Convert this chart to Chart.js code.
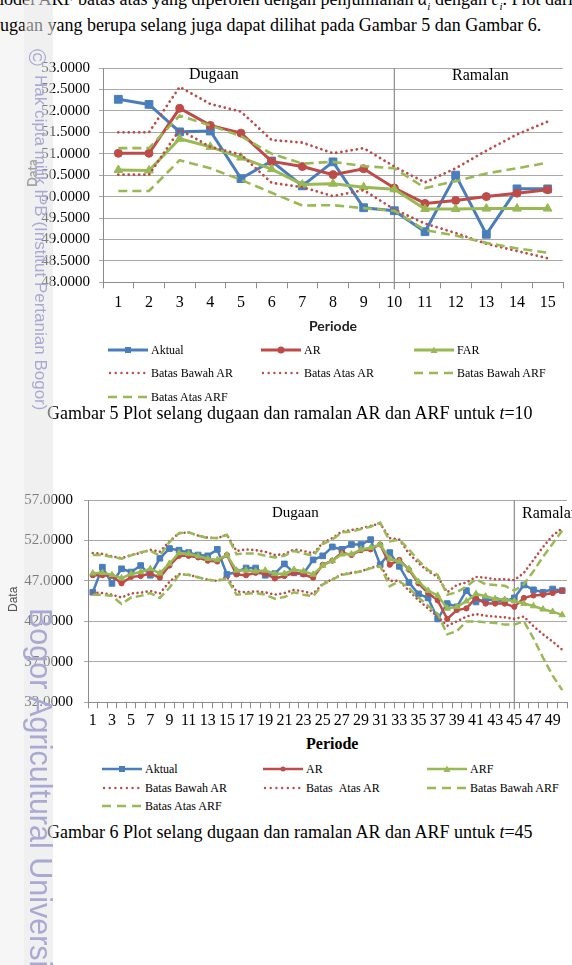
<!DOCTYPE html>
<html>
<head>
<meta charset="utf-8">
<script src="https://cdn.jsdelivr.net/npm/chart.js"></script>
<style>
  body { margin: 0; width: 572px; height: 965px; overflow: hidden; background: #fff; position: relative;
         font-family: "Liberation Serif", "Times New Roman", serif; color: #000; }
  .abs { position: absolute; white-space: nowrap; }
  .teks { font-size: 18px; line-height: 20px; }
  canvas { position: absolute; left: 0; }
  .leg { position: absolute; display: flex; align-items: center; height: 14px; font-size: 12px; white-space: nowrap; }
  .leg svg { margin-right: 3px; }
  .strip1 { position: absolute; left: 0; top: 0; width: 24px; height: 965px; background: #f6f6f6; }
  .strip2 { position: absolute; left: 24px; top: 0; width: 29px; height: 965px; background: rgba(228,228,230,0.55); }
  .wm { position: absolute; white-space: nowrap; color: #a9a9d3; font-family: "Liberation Sans", Arial, sans-serif;
        transform-origin: 0 0; transform: rotate(90deg); }
</style>
</head>
<body>
<div class="strip1"></div>

<div class="abs teks" style="left:-10px; top:-11px;">model ARF batas atas yang diperoleh dengan penjumlahan <i>α<sub style="font-size:11px">i</sub></i> dengan <i>c<sub style="font-size:11px">i</sub></i>. Plot dari</div>
<div class="abs teks" style="left:-9px; top:15px;">dugaan yang berupa selang juga dapat dilihat pada Gambar 5 dan Gambar 6.</div>

<canvas id="grafik1" width="572" height="270" style="top:50px"></canvas>
<div class="abs" style="left:189px; top:65px; font-size:16px;">Dugaan</div>
<div class="abs" style="left:452px; top:66px; font-size:16px;">Ramalan</div>
<div class="abs" style="left:24px; top:187px; font:bold 13px Lato, sans-serif; color:#555; transform:rotate(-90deg); transform-origin:0 0;">Data</div>
<div class="abs" style="left:309px; top:317px; font:bold 14px Lato, sans-serif; color:#222;">Periode</div>
<div id="legenda1"></div>
<div class="abs teks" style="left:47px; top:403px;">Gambar 5 Plot selang dugaan dan ramalan AR dan ARF untuk <i>t</i>=10</div>

<canvas id="grafik2" width="572" height="255" style="top:480px"></canvas>
<div class="abs" style="left:272px; top:504px; font-size:15px;">Dugaan</div>
<div class="abs" style="left:522px; top:504px; font-size:16px;">Ramalan</div>
<div class="abs" style="left:6px; top:612px; font:12px 'Liberation Sans', sans-serif; color:#555; transform:rotate(-90deg); transform-origin:0 0;">Data</div>
<div class="abs" style="left:306px; top:735px; font-weight:bold; font-size:16px;">Periode</div>
<div id="legenda2"></div>
<div class="abs teks" style="left:47px; top:822px;">Gambar 6 Plot selang dugaan dan ramalan AR dan ARF untuk <i>t</i>=45</div>

<div class="strip2"></div>
<div class="wm" style="left:50px; top:49px; font-size:23px;">©</div>
<div class="wm" style="left:50px; top:75px; font-size:17px;">Hak cipta milik IPB (Institut Pertanian Bogor)</div>
<div class="wm" style="left:58px; top:608px; font-size:30.5px;">Bogor Agricultural University</div>

<script>
'use strict';

/**
 * data grafik 1 (t = 10)
 */
const periode1 = [1, 2, 3, 4, 5, 6, 7, 8, 9, 10, 11, 12, 13, 14, 15];
const aktual1 = [52.27, 52.15, 51.51, 51.53, 50.42, 50.83, 50.25, 50.81, 49.74, 49.67, 49.18, 50.50, 49.12, 50.18, 50.18];
const ar1 = [51.01, 51.01, 52.06, 51.66, 51.48, 50.82, 50.70, 50.51, 50.65, 50.20, 49.84, 49.91, 50.00, 50.08, 50.16];
const far1 = [50.62, 50.61, 51.35, 51.16, 50.91, 50.64, 50.28, 50.30, 50.22, 50.17, 49.71, 49.71, 49.72, 49.72, 49.72];
const bawahAR1 = [50.51, 50.51, 51.56, 51.16, 50.98, 50.32, 50.22, 50.01, 50.15, 49.70, 49.37, 49.15, 48.90, 48.73, 48.56];
const atasAR1 = [51.50, 51.50, 52.56, 52.16, 51.98, 51.32, 51.26, 51.01, 51.13, 50.70, 50.33, 50.66, 51.07, 51.45, 51.75];
const bawahARF1 = [50.13, 50.13, 50.85, 50.66, 50.39, 50.09, 49.79, 49.80, 49.73, 49.67, 49.22, 49.09, 48.92, 48.79, 48.69];
const atasARF1 = [51.13, 51.13, 51.89, 51.66, 51.41, 51.00, 50.77, 50.81, 50.71, 50.66, 50.20, 50.36, 50.54, 50.66, 50.79];
const namaSeri1 = ["Aktual", "AR", "FAR", "Batas Bawah AR", "Batas Atas AR", "Batas Bawah ARF", "Batas Atas ARF"];
const batasPeriode1 = 10;

/**
 * data grafik 2 (t = 45)
 */
const periode2 = [1, 2, 3, 4, 5, 6, 7, 8, 9, 10, 11, 12, 13, 14, 15, 16, 17, 18, 19, 20, 21, 22, 23, 24, 25,
  26, 27, 28, 29, 30, 31, 32, 33, 34, 35, 36, 37, 38, 39, 40, 41, 42, 43, 44, 45, 46, 47, 48, 49, 50];
const aktual2 = [45.6, 48.7, 46.7, 48.5, 48.1, 48.9, 47.7, 49.8, 51.0, 50.8, 50.5, 50.2, 50.1, 50.9, 47.8, 48.1, 48.6, 48.6, 47.7, 47.9,
  49.1, 48.0, 47.9, 49.6, 50.1, 51.2, 50.9, 51.5, 51.5, 52.1, 49.0, 50.5, 48.8, 46.8, 45.4, 44.9, 42.3, 44.2, 43.8, 45.8,
  44.4, 44.7, 44.6, 44.5, 44.9, 46.5, 45.9, 45.6, 46.0, 45.8];
const ar2 = [47.7, 47.7, 47.6, 46.7, 47.5, 47.6, 47.9, 47.4, 48.9, 50.1, 50.1, 49.9, 49.5, 49.4, 50.2, 47.8, 47.7, 48.0, 47.9, 47.3,
  47.6, 48.0, 47.8, 47.4, 49.0, 49.5, 50.5, 50.2, 50.8, 50.9, 51.5, 49.0, 49.6, 48.4, 46.7, 45.5, 44.6, 42.3, 43.4, 43.6,
  44.9, 44.2, 44.2, 44.2, 43.8, 44.9, 45.2, 45.3, 45.5, 45.8];
const arf2 = [47.95, 48.0, 47.75, 47.35, 47.85, 48.1, 48.5, 47.95, 49.15, 50.45, 50.35, 50.05, 49.75, 49.6, 50.2, 48.3, 48.3, 48.2, 48.3, 47.9,
  47.9, 48.4, 48.2, 47.8, 48.9, 49.5, 50.3, 50.3, 50.9, 51.1, 51.5, 49.7, 49.4, 48.5, 46.9, 45.8, 45.2, 43.6, 43.8, 44.5,
  45.4, 45.1, 44.8, 44.7, 44.5, 44.2, 43.9, 43.5, 43.2, 42.8];
const bawahAR2 = [45.55, 45.5, 45.3, 44.95, 45.45, 45.55, 45.75, 45.45, 46.9, 47.85, 47.75, 47.45, 47.15, 47.0, 47.5, 45.7, 45.6, 45.7, 45.6, 45.3,
  45.5, 45.9, 45.7, 45.4, 46.65, 47.2, 47.8, 48.0, 48.2, 48.6, 48.95, 47.0, 47.0, 45.8, 44.6, 43.6, 42.6, 41.45, 42.0, 42.6,
  42.9, 42.7, 42.6, 42.5, 42.3, 42.6, 41.4, 40.4, 39.5, 38.5];
const atasAR2 = [50.45, 50.35, 50.05, 49.8, 50.2, 50.45, 50.85, 50.6, 51.9, 52.9, 53.0, 52.6, 52.35, 52.3, 52.7, 50.7, 50.9, 50.8, 50.6, 50.2,
  50.3, 50.9, 50.7, 50.4, 51.7, 52.3, 53.1, 53.3, 53.5, 53.8, 54.1, 52.3, 52.1, 50.4, 49.2, 48.2, 47.5, 45.6, 46.5, 46.8,
  47.5, 47.4, 47.2, 47.2, 47.1, 48.0, 49.6, 51.2, 52.6, 53.5];
const bawahARF2 = [45.3, 45.3, 45.15, 44.15, 44.95, 45.15, 45.5, 44.9, 46.15, 47.75, 47.75, 47.45, 47.15, 47.0, 47.3, 45.3, 45.4, 45.5, 45.3, 44.8,
  45.0, 45.6, 45.3, 45.1, 46.55, 47.15, 47.75, 47.95, 48.2, 48.55, 48.85, 46.35, 46.95, 46.15, 44.95, 43.95, 42.95, 40.4, 40.8, 42.0,
  42.0, 41.9, 41.8, 41.6, 41.6, 42.0, 39.9, 37.5, 35.3, 33.5];
const atasARF2 = [50.2, 50.2, 49.95, 49.75, 50.15, 50.55, 50.75, 50.1, 51.8, 52.9, 53.0, 52.6, 52.3, 52.3, 52.7, 50.3, 50.4, 50.4, 50.1, 49.9,
  50.1, 50.7, 50.4, 50.1, 51.55, 52.1, 53.0, 53.1, 53.4, 53.7, 54.2, 51.9, 52.1, 50.9, 49.5, 48.35, 47.75, 45.3, 45.6, 46.3,
  47.2, 46.6, 46.5, 46.4, 45.8, 46.6, 48.2, 50.0, 51.6, 53.2];
const namaSeri2 = ["Aktual", "AR", "ARF", "Batas Bawah AR", "Batas  Atas AR", "Batas Bawah ARF", "Batas Atas ARF"];
const batasPeriode2 = 45;


/**
 * gaya garis (warna Excel)
 */
const BIRU = "#4a7ebb";
const MERAH = "#be4b48";
const HIJAU = "#98b954";

const gaya = [
  { warna: BIRU, jenis: "solid", titik: "rect" },
  { warna: MERAH, jenis: "solid", titik: "circle" },
  { warna: HIJAU, jenis: "solid", titik: "triangle" },
  { warna: MERAH, jenis: "dot" },
  { warna: MERAH, jenis: "dot" },
  { warna: HIJAU, jenis: "dash" },
  { warna: HIJAU, jenis: "dash" }
];

const buatDataset = (nama, data, i, besar) => {
  const g = gaya[i];
  const ds = {
    label: nama, data: data, borderColor: g.warna, backgroundColor: g.warna,
    fill: false, tension: 0, order: 7 - i, pointRadius: 0
  };
  if (g.jenis === "solid") {
    ds.borderWidth = besar ? 3 : 2.5;
    ds.pointStyle = g.titik;
    ds.pointBorderWidth = 1;
    const r = { rect: besar ? 5.5 : 4, circle: besar ? 4 : 2.6, triangle: besar ? 5 : 3.6 };
    ds.pointRadius = r[g.titik];
  } else if (g.jenis === "dot") {
    ds.borderWidth = besar ? 2.8 : 2.6;
    ds.borderDash = [0.01, besar ? 5.2 : 4.6];
    ds.borderCapStyle = "round";
  } else {
    ds.borderWidth = besar ? 2.6 : 2.5;
    ds.borderDash = besar ? [9, 5] : [8, 4];
  }
  return ds;
};

// garis pemisah dugaan / ramalan
const garisPisah = {
  id: "garisPisah",
  beforeDatasetsDraw(chart, args, opts) {
    const ctx = chart.ctx;
    const x = chart.scales.x.getPixelForValue(opts.index);
    ctx.save();
    ctx.strokeStyle = "#8c8c8c";
    ctx.lineWidth = 1.2;
    ctx.beginPath();
    ctx.moveTo(x, chart.chartArea.top);
    ctx.lineTo(x, chart.chartArea.bottom + 7);
    ctx.stroke();
    ctx.restore();
  }
};

const buatGrafik = (id, label, seri, nama, cfg) => {
  new Chart(id, {
    type: "line",
    data: {
      labels: label,
      datasets: seri.map((d, i) => buatDataset(nama[i], d, i, cfg.besar))
    },
    options: {
      responsive: false,
      animation: false,
      devicePixelRatio: 1,
      layout: { padding: cfg.padding },
      plugins: {
        legend: { display: false },
        tooltip: { enabled: false },
        garisPisah: { index: label.indexOf(cfg.batas) }
      },
      scales: {
        x: {
          offset: true,
          grid: { offset: true, drawOnChartArea: false, tickLength: 6, color: "#8c8c8c" },
          border: { color: "#8c8c8c" },
          ticks: {
            autoSkip: false, maxRotation: 0, padding: cfg.xPad, color: "#000",
            font: { family: "'Liberation Serif'", size: 16 },
            callback: function (v, i) { return i % cfg.loncat === 0 ? this.getLabelForValue(v) : ""; }
          },
          afterFit: (s) => { s.height = cfg.xTinggi; }
        },
        y: {
          min: cfg.min, max: cfg.max,
          grid: { color: "#a9a9a9", tickLength: 4 },
          border: { color: "#8c8c8c" },
          ticks: {
            stepSize: cfg.langkah, padding: cfg.yPad, color: "#000",
            font: { family: "'Liberation Serif'", size: 15 },
            callback: (v) => v.toFixed(4)
          },
          afterFit: (s) => { s.width = cfg.yLebar; }
        }
      }
    },
    plugins: [garisPisah]
  });
};

buatGrafik("grafik1", periode1, [aktual1, ar1, far1, bawahAR1, atasAR1, bawahARF1, atasARF1], namaSeri1, {
  besar: true, batas: batasPeriode1, min: 48, max: 53, langkah: 0.5, loncat: 1,
  padding: { top: 11.7, right: 9, left: 0, bottom: 0 }, yLebar: 103, xTinggi: 37.7, xPad: 5, yPad: 9
});

buatGrafik("grafik2", periode2, [aktual2, ar2, arf2, bawahAR2, atasAR2, bawahARF2, atasARF2], namaSeri2, {
  besar: false, batas: batasPeriode2, min: 32, max: 57, langkah: 5, loncat: 2,
  padding: { top: 12.7, right: 0.5, left: 0, bottom: 0 }, yLebar: 88, xTinggi: 32.7, xPad: 3, yPad: 11
});


/**
 * legenda (3 kolom)
 */
const contohGaris = (g, besar) => {
  const w = 40, h = 12, y = 6;
  let s = `<svg width="${w}" height="${h}">`;
  if (g.jenis === "solid") {
    s += `<line x1="0" y1="${y}" x2="${w}" y2="${y}" stroke="${g.warna}" stroke-width="${besar ? 3 : 2.5}"/>`;
    if (g.titik === "rect") s += `<rect x="${w / 2 - 3}" y="${y - 3}" width="6" height="6" fill="${g.warna}"/>`;
    if (g.titik === "circle") s += `<circle cx="${w / 2}" cy="${y}" r="${besar ? 3.5 : 2.5}" fill="${g.warna}"/>`;
    if (g.titik === "triangle") s += `<path d="M${w / 2 - 3.5} ${y + 3} L${w / 2 + 3.5} ${y + 3} L${w / 2} ${y - 3.5}Z" fill="${g.warna}"/>`;
  } else if (g.jenis === "dot") {
    s += `<line x1="2" y1="${y}" x2="${w}" y2="${y}" stroke="${g.warna}" stroke-width="2.4" stroke-linecap="round" stroke-dasharray="0.01 5.7"/>`;
  } else {
    s += `<line x1="0" y1="${y}" x2="${w}" y2="${y}" stroke="${g.warna}" stroke-width="2.5" stroke-dasharray="9 6"/>`;
  }
  return s + "</svg>";
};

const buatLegenda = (id, nama, kolom, baris, besar) => {
  const box = document.getElementById(id);
  nama.forEach((n, i) => {
    const el = document.createElement("div");
    el.className = "leg";
    el.style.left = kolom[i % 3] + "px";
    el.style.top = (baris[Math.floor(i / 3)] - 7) + "px";
    el.innerHTML = contohGaris(gaya[i], besar) + "<span>" + n.replace(/  /g, " &nbsp;") + "</span>";
    box.appendChild(el);
  });
};

buatLegenda("legenda1", namaSeri1, [108, 261, 414], [350, 373, 397], true);
buatLegenda("legenda2", namaSeri2, [102, 263, 427], [769, 788, 806], false);
</script>
</body>
</html>
